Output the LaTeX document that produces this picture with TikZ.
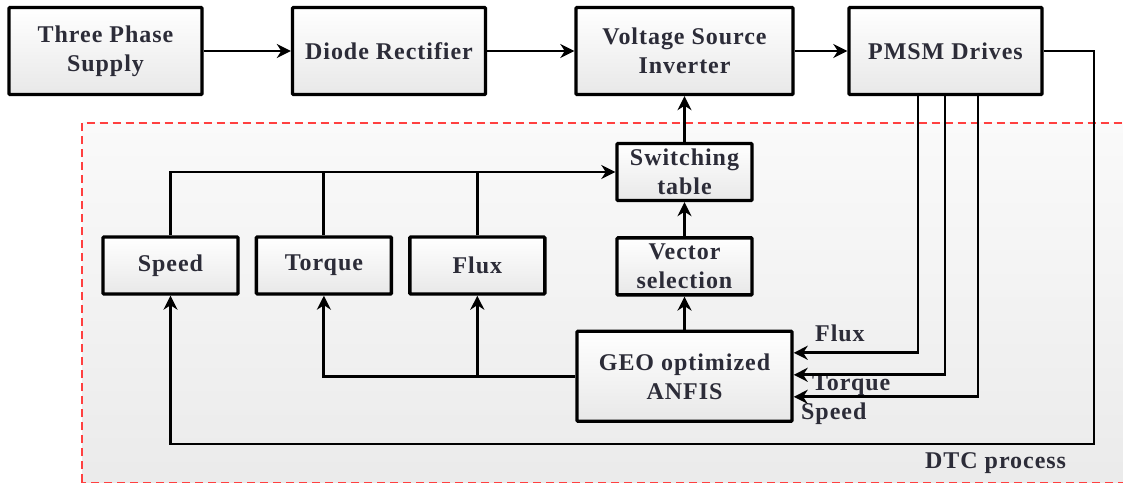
\documentclass[tikz,border=0pt]{standalone}
\usepackage{fontspec}
\setmainfont{Liberation Serif}[LetterSpace=4]
\usetikzlibrary{positioning,arrows.meta,shadows,backgrounds}
\definecolor{txtc}{RGB}{44,44,56}
\definecolor{dtcred}{RGB}{255,64,64}

\begin{document}
\begin{tikzpicture}[x=1pt, y=1pt,
  blk/.style={draw=black, line width=3.4pt, rounded corners=1pt, top color=white, bottom color=black!9,
              text=txtc, font=\fontsize{24}{29}\selectfont\bfseries, align=center, inner sep=1pt,
              drop shadow={shadow xshift=1.5pt, shadow yshift=-1.5pt, opacity=0.2}},
  big/.style={blk, minimum width=193pt, minimum height=87pt},
  small/.style={blk, minimum width=135pt, minimum height=57pt},
  lbl/.style={text=txtc, font=\fontsize{24}{29}\selectfont\bfseries, inner sep=0pt},
  arr/.style={-{Stealth[length=14pt, width=14pt, inset=4.5pt]}, line width=2.9pt},
  wire/.style={line width=2.9pt},
]
\useasboundingbox (0,0) rectangle (1123,484);

%% ── TOP ROW: power path ─────────────────────────────────────────────────────
\node[big] (tps) at (105.5,433) {Three Phase\\Supply};
\node[big] (dr) at (389,433) {Diode Rectifier};
\node[big, minimum width=217pt] (vsi) at (684.5,433) {Voltage Source\\Inverter};
\node[big] (pmsm) at (945.5,433) {PMSM Drives};

%% ── DTC BLOCKS ───────────────────────────────────────────────────────────────
\node[small] (swt) at (684.5,312) {Switching\\table};
\node[small, below=34pt of swt] (vec) {Vector\\selection};
\node[blk, minimum width=215pt, minimum height=90pt, below=33pt of vec] (geo) {GEO optimized\\ANFIS};
\node[small] (spd) at (170.5,218.5) {Speed};
\node[small, right=15pt of spd] (trq) {Torque};
\node[small, right=15pt of trq] (flx) {Flux};

%% ── LABELS ───────────────────────────────────────────────────────────────────
\node[lbl, anchor=base west] (lflx) at (815,142) {Flux};
\node[lbl, anchor=base west] (ltrq) at (812,93) {Torque};
\node[lbl, anchor=base west] (lspd) at (801,64) {Speed};
\node[lbl, anchor=base west] (ldtc) at (925,16) {DTC process};
\coordinate (fbk) at (1094,40);

%% ── POWER PATH ARROWS ────────────────────────────────────────────────────────
\draw[arr] (tps) -- (dr);
\draw[arr] (dr) -- (vsi);
\draw[arr] (vsi) -- (pmsm);

%% ── CONTROL CHAIN ────────────────────────────────────────────────────────────
\draw[arr] (swt) -- (vsi);
\draw[arr] (vec) -- (swt);
\draw[arr] (geo) -- (vec);
\draw[arr] (spd.north) |- (swt.west);
\draw[wire] (trq.north) -- (trq.north |- swt.west);
\draw[wire] (flx.north) -- (flx.north |- swt.west);
\draw[arr] (geo.west) -| (trq.south);
\draw[arr] (geo.west -| flx.south) -- (flx.south);

%% ── FEEDBACK FROM MOTOR ──────────────────────────────────────────────────────
\draw[arr] ([xshift=-27.5pt]pmsm.south) |- ([yshift=23.5pt]geo.east);
\draw[arr] ([xshift=-0.5pt]pmsm.south) |- ([yshift=1.5pt]geo.east);
\draw[arr] ([xshift=32.5pt]pmsm.south) |- ([yshift=-20.5pt]geo.east);
\draw[arr] (pmsm.east) -| (fbk) -| (spd.south);

%% ── DTC FRAME ────────────────────────────────────────────────────────────────
\begin{scope}[on background layer]
  \coordinate (dtcsw) at (82,1.5);
  \coordinate (dtcne) at (1135,361);
  \draw[dtcred, line width=1.4pt, dash pattern=on 8pt off 5pt, top color=black!2, bottom color=black!8]
    (dtcsw) rectangle (dtcne);
\end{scope}
\end{tikzpicture}
\end{document}
